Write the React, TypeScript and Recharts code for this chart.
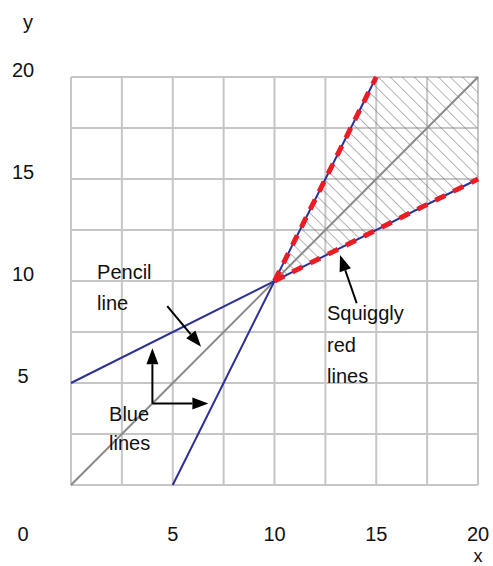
import React from 'react';
import {
  ComposedChart,
  Line,
  Area,
  XAxis,
  YAxis,
  CartesianGrid,
  ReferenceLine,
  ReferenceDot,
} from 'recharts';

// grid every 2.5, labels every 5
const gridTicks = [0, 2.5, 5, 7.5, 10, 12.5, 15, 17.5, 20];
const labeledTicks = [0, 5, 10, 15, 20];

const pencilX = [0, 20];
const pencilY = [0, 20];
const blueShallowX = [0, 20];
const blueShallowY = [5, 15];
const blueSteepX = [5, 15];
const blueSteepY = [0, 20];
const squigglyShallowX = [10, 20];
const squigglyShallowY = [10, 15];
const squigglySteepX = [10, 15];
const squigglySteepY = [10, 20];
const hatchX = [10, 15, 20];
const hatchLow = [10, 12.5, 15];
const hatchHigh = [10, 20, 20];

const noteTexts = ['Pencil', 'line', 'Blue', 'lines', 'Squiggly', 'red', 'lines'];
const noteX = [1.28, 1.28, 1.87, 1.87, 12.58, 12.58, 12.58];
const noteY = [10.42, 8.92, 3.5, 2.06, 8.43, 6.86, 5.34];

const arrowFromX = [4.73, 4, 4, 14.04];
const arrowFromY = [8.77, 4, 4, 8.91];
const arrowToX = [6.39, 4, 6.75, 13.22];
const arrowToY = [6.78, 6.7, 4, 11.27];

const FONT = '"Liberation Sans", Arial, sans-serif';

const toPoints = (xs: number[], ys: number[]) => xs.map((x, i) => ({ x, y: ys[i] }));
const hatchData = hatchX.map((x, i) => ({ x, band: [hatchLow[i], hatchHigh[i]] }));

const textStyle = { fontFamily: FONT, fontSize: 20, fill: '#111' };

const XTick = (p: any) => {
  const v = p.payload.value;
  if (!labeledTicks.includes(v)) return <g />;
  const x = v === 0 ? p.x - 48 : p.x;
  return (
    <text x={x} y={p.y + 49} dy="0.35em" textAnchor="middle" style={textStyle}>
      {v}
    </text>
  );
};

const YTick = (p: any) => {
  const v = p.payload.value;
  if (!labeledTicks.includes(v) || v === 0) return <g />;
  return (
    <text x={p.x - 48} y={p.y - 7} dy="0.35em" textAnchor="middle" style={textStyle}>
      {v}
    </text>
  );
};

const Arrow = (p: any) => {
  const { x1, y1, x2, y2 } = p;
  const dx = x2 - x1;
  const dy = y2 - y1;
  const len = Math.hypot(dx, dy) || 1;
  const ux = dx / len;
  const uy = dy / len;
  const head = 16;
  const half = 6;
  const bx = x2 - ux * head;
  const by = y2 - uy * head;
  return (
    <g>
      <line x1={x1} y1={y1} x2={bx} y2={by} stroke="#000" strokeWidth={2} />
      <polygon
        points={`${x2},${y2} ${bx - uy * half},${by + ux * half} ${bx + uy * half},${by - ux * half}`}
        fill="#000"
      />
    </g>
  );
};

export default function App() {
  return (
    <div style={{ position: 'absolute', left: 0, top: 0, width: 493, height: 566 }}>
      <ComposedChart width={493} height={566} margin={{ top: 77, right: 15, bottom: 21, left: 0 }}>
        <defs>
          <pattern id="hatch" width={8.5} height={8.5} patternUnits="userSpaceOnUse" patternTransform="rotate(-45)">
            <line x1={0} y1={0} x2={0} y2={8.5} stroke="#707070" strokeWidth={1} />
          </pattern>
        </defs>
        <CartesianGrid stroke="#c6c6c6" strokeWidth={2} />
        <XAxis
          dataKey="x"
          type="number"
          domain={[0, 20]}
          ticks={gridTicks}
          interval={0}
          height={60}
          axisLine={false}
          tickLine={false}
          tickSize={0}
          tickMargin={0}
          tick={XTick}
          allowDuplicatedCategory={false}
          label={{
            content: (lp: any) => (
              <text
                x={lp.viewBox.x + lp.viewBox.width}
                y={lp.viewBox.y + 70.5}
                dy="0.35em"
                textAnchor="middle"
                style={{ ...textStyle, fontSize: 18 }}
              >
                x
              </text>
            ),
          }}
        />
        <YAxis
          type="number"
          domain={[0, 20]}
          ticks={gridTicks}
          interval={0}
          width={71}
          axisLine={false}
          tickLine={false}
          tickSize={0}
          tickMargin={0}
          tick={YTick}
          label={{
            content: (lp: any) => (
              <text x={lp.viewBox.x + 28} y={lp.viewBox.y - 55} dy="0.35em" textAnchor="middle" style={textStyle}>
                y
              </text>
            ),
          }}
        />
        <Area
          data={hatchData}
          dataKey="band"
          type="linear"
          stroke="none"
          fill="url(#hatch)"
          fillOpacity={1}
          isAnimationActive={false}
        />
        <Line
          data={toPoints(pencilX, pencilY)}
          dataKey="y"
          type="linear"
          stroke="#8a8a8a"
          strokeWidth={2}
          dot={false}
          isAnimationActive={false}
        />
        <Line
          data={toPoints(blueShallowX, blueShallowY)}
          dataKey="y"
          type="linear"
          stroke="#2e3192"
          strokeWidth={2}
          dot={false}
          isAnimationActive={false}
        />
        <Line
          data={toPoints(blueSteepX, blueSteepY)}
          dataKey="y"
          type="linear"
          stroke="#2e3192"
          strokeWidth={2}
          dot={false}
          isAnimationActive={false}
        />
        <Line
          data={toPoints(squigglyShallowX, squigglyShallowY)}
          dataKey="y"
          type="linear"
          stroke="#ec1c24"
          strokeWidth={5}
          strokeDasharray="11 9"
          dot={false}
          isAnimationActive={false}
        />
        <Line
          data={toPoints(squigglySteepX, squigglySteepY)}
          dataKey="y"
          type="linear"
          stroke="#ec1c24"
          strokeWidth={5}
          strokeDasharray="11 9"
          dot={false}
          isAnimationActive={false}
        />
        {arrowFromX.map((fx, i) => (
          <ReferenceLine
            key={`arrow-${i}`}
            segment={[
              { x: fx, y: arrowFromY[i] },
              { x: arrowToX[i], y: arrowToY[i] },
            ]}
            ifOverflow="visible"
            shape={Arrow}
          />
        ))}
        {noteTexts.map((t, i) => (
          <ReferenceDot
            key={`note-${i}`}
            x={noteX[i]}
            y={noteY[i]}
            r={1}
            ifOverflow="visible"
            shape={(p: any) => (
              <text x={p.cx} y={p.cy} dy="0.35em" textAnchor="start" style={textStyle}>
                {t}
              </text>
            )}
          />
        ))}
      </ComposedChart>
    </div>
  );
}
